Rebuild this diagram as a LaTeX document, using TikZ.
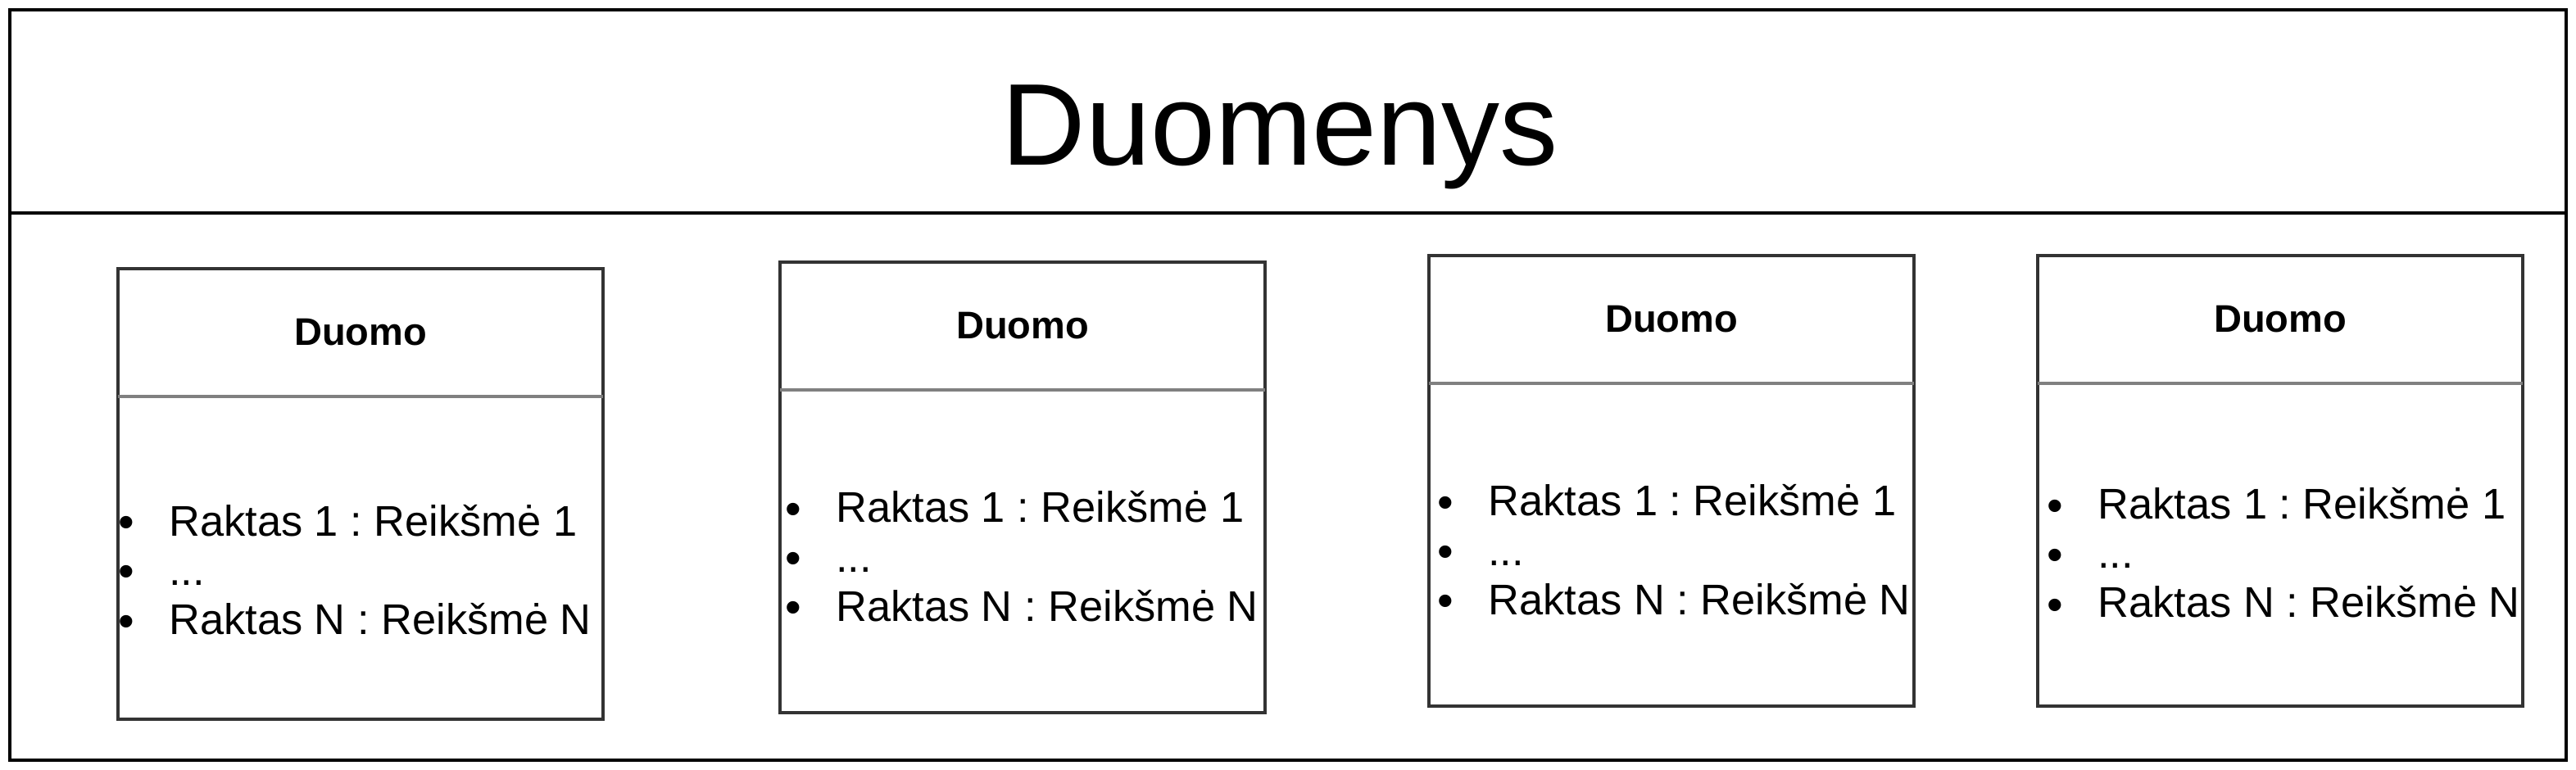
\documentclass[tikz,border=0pt]{standalone}
\usepackage{fontspec}
\setmainfont{Liberation Sans}
\usepackage{tikz}
\usetikzlibrary{calc}
\usetikzlibrary{positioning}
\definecolor{boxgray}{HTML}{333333}
\definecolor{linegray}{HTML}{808080}
\tikzset{
    frame/.style={draw=black, line width=2pt, inner sep=0pt, outer sep=0pt, minimum width=1560pt, minimum height=458pt},
    heading/.style={font=\fontsize{71}{85}\selectfont, inner sep=0pt, anchor=base},
    duomobox/.style={draw=boxgray, line width=2pt, fill=white, inner sep=0pt, outer sep=0pt, minimum width=296pt, minimum height=275pt, anchor=north west},
    duomotitle/.style={font=\bfseries\fontsize{23.5}{28}\selectfont, inner sep=0pt, anchor=base},
    keyval/.style={font=\fontsize{26.2}{30}\selectfont, inner sep=0pt, anchor=base west},
    kvbullet/.style={font=\fontsize{28}{30}\selectfont, inner sep=0pt, anchor=base west},
    headline/.style={draw=linegray, line width=2pt}
}
% name, left, top, first baseline, text offset
\newcommand{\duomo}[5]{
    \node[duomobox] (#1) at (#2,#3) {};
    \node[duomotitle] (#1-title) at ($(#1.north)+(0,-47)$) {Duomo};
    \draw[headline] ($(#1.north west)+(0,-78)$) -- ($(#1.north east)+(0,-78)$);
    \node[keyval] (#1-first) at ($(#1.north west)+(#5,-#4)$) {Raktas 1 : Reikšmė 1};
    \node[keyval] (#1-dots) at ($(#1-first.base west)+(0,-30)$) {...};
    \node[keyval] (#1-last) at ($(#1-dots.base west)+(0,-30)$) {Raktas N : Reikšmė N};
    \foreach \row in {first,dots,last}
        \node[kvbullet] (#1-\row-dot) at ($(#1-\row.base west)+(-31,-1.5)$) {•};
}

\begin{document}
\frenchspacing
\begin{tikzpicture}[x=1pt, y=1pt]
        \useasboundingbox (0,0) rectangle (1572,-470);
        % container
        \node[frame] (duomenys) at (786,-235) {};
        \draw[line width=2pt] ($(duomenys.north west)+(0,-124)$) -- ($(duomenys.north east)+(0,-124)$);
        \node[heading] (duomenys-title) at ($(duomenys.north)+(-5,-95)$) {Duomenys};
        % box 1
        \duomo{d1}{72}{-164}{163}{31}
        % box 2
        \duomo{d2}{476}{-160}{159}{34}
        % box 3
        \duomo{d3}{872}{-156}{159}{36}
        % box 4
        \duomo{d4}{1243.5}{-156}{161}{36.5}
\end{tikzpicture}
\end{document}
